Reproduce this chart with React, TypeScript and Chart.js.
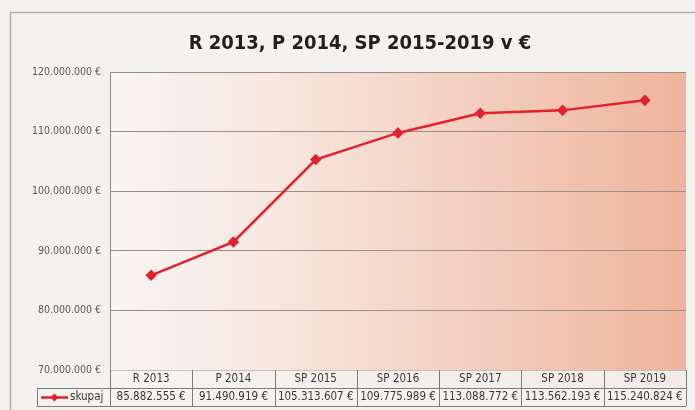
import { useEffect, useRef } from "react";
import { Chart, registerables } from "chart.js";

Chart.register(...registerables);

const chartTitle = "R 2013, P 2014, SP 2015-2019 v €";
const categories = ["R 2013", "P 2014", "SP 2015", "SP 2016", "SP 2017", "SP 2018", "SP 2019"];
const seriesName = "skupaj";
const skupaj = [85882555, 91490919, 105313607, 109775989, 113088772, 113562193, 115240824];
const yMin = 70000000;
const yMax = 120000000;
const yStep = 10000000;

const FONT = "'DejaVu Sans Condensed', 'DejaVu Sans', sans-serif";
const RED = "#e2212d";

function fmt(v: number): string {
  return Math.round(v).toString().replace(/\B(?=(\d{3})+(?!\d))/g, ".") + " €";
}

const decorPlugin = {
  id: "decor",
  beforeDraw(chart: any) {
    const { ctx, chartArea } = chart;
    const W = chart.width;
    const H = chart.height;
    ctx.save();
    ctx.fillStyle = "#f3f2ef";
    ctx.fillRect(0, 0, W, H);
    // outer frame
    ctx.strokeStyle = "#b0b0ae";
    ctx.lineWidth = 1.5;
    ctx.beginPath();
    ctx.moveTo(10.5, H);
    ctx.lineTo(10.5, 12.5);
    ctx.lineTo(W, 12.5);
    ctx.stroke();
    // plot area gradient
    const g = ctx.createLinearGradient(chartArea.left, 0, chartArea.right, 0);
    g.addColorStop(0, "#f8f5f3");
    g.addColorStop(0.3, "#f7e6de");
    g.addColorStop(0.65, "#f3cdbd");
    g.addColorStop(1, "#eeb49c");
    ctx.fillStyle = g;
    ctx.fillRect(chartArea.left, chartArea.top, chartArea.right - chartArea.left, chartArea.bottom - chartArea.top);
    // title
    ctx.fillStyle = "#231f20";
    ctx.font = `bold 20px ${FONT}`;
    ctx.textAlign = "center";
    ctx.textBaseline = "middle";
    ctx.fillText(chartTitle, 360, 44);
    ctx.restore();
  },
  afterDraw(chart: any) {
    const { ctx, chartArea } = chart;
    const xs = chart.scales.x;
    const n = categories.length;
    const colW = (chartArea.right - chartArea.left) / n;
    const top = chartArea.bottom;
    const mid = top + 18;
    const bot = mid + 18;
    const legL = 37;
    ctx.save();
    // header row background
    const hg = ctx.createLinearGradient(chartArea.left, 0, chartArea.right, 0);
    hg.addColorStop(0, "#f6f3f1");
    hg.addColorStop(1, "#f3ebe6");
    ctx.fillStyle = hg;
    ctx.fillRect(chartArea.left + 0.5, top + 0.5, chartArea.right - chartArea.left - 1, 17.5);
    ctx.fillStyle = "#f5f3f0";
    ctx.fillRect(legL, mid, chartArea.right - legL, 18);

    ctx.strokeStyle = "#7f7a78";
    ctx.lineWidth = 1;
    ctx.beginPath();
    ctx.moveTo(legL, mid + 0.5);
    ctx.lineTo(chartArea.right, mid + 0.5);
    ctx.moveTo(legL, bot + 0.5);
    ctx.lineTo(chartArea.right, bot + 0.5);
    ctx.moveTo(legL + 0.5, mid);
    ctx.lineTo(legL + 0.5, bot);
    for (let i = 0; i <= n; i++) {
      const x = Math.round(chartArea.left + i * colW) + 0.5;
      ctx.moveTo(x, top);
      ctx.lineTo(x, bot);
    }
    ctx.stroke();

    ctx.textBaseline = "middle";
    ctx.textAlign = "center";
    ctx.font = `11.5px ${FONT}`;
    ctx.fillStyle = "#3d3837";
    categories.forEach((c, i) => {
      const x = xs.getPixelForValue(i);
      ctx.fillText(c, x, top + 9.5);
      ctx.fillText(fmt(skupaj[i]), x, mid + 9.5);
    });

    // legend
    const ly = mid + 9.5;
    ctx.strokeStyle = RED;
    ctx.lineWidth = 2.5;
    ctx.beginPath();
    ctx.moveTo(41, ly);
    ctx.lineTo(68, ly);
    ctx.stroke();
    ctx.fillStyle = RED;
    ctx.beginPath();
    ctx.moveTo(54.5, ly - 4);
    ctx.lineTo(58.5, ly);
    ctx.lineTo(54.5, ly + 4);
    ctx.lineTo(50.5, ly);
    ctx.closePath();
    ctx.fill();
    ctx.fillStyle = "#3d3837";
    ctx.textAlign = "left";
    ctx.fillText(seriesName, 70, ly);
    ctx.restore();
  },
};

export default function App() {
  const ref = useRef<HTMLCanvasElement | null>(null);
  useEffect(() => {
    document.body.style.margin = "0";
    const canvas = ref.current;
    if (!canvas) return;
    const chart = new Chart(canvas, {
      type: "line",
      data: {
        labels: categories,
        datasets: [
          {
            label: seriesName,
            data: skupaj,
            borderColor: RED,
            backgroundColor: RED,
            borderWidth: 2.5,
            pointStyle: "rectRot",
            pointRadius: 4,
            pointBackgroundColor: RED,
            pointBorderColor: RED,
            tension: 0,
          },
        ],
      },
      options: {
        responsive: false,
        animation: false,
        layout: { padding: { top: 72, right: 9, bottom: 40, left: 0 } },
        plugins: {
          legend: { display: false },
          tooltip: { enabled: false },
          title: { display: false },
        },
        scales: {
          x: { type: "category", display: false, offset: true },
          y: {
            min: yMin,
            max: yMax,
            ticks: {
              stepSize: yStep,
              callback: (v: any) => fmt(Number(v)),
              color: "#5e5856",
              font: { family: FONT, size: 10.5 },
              padding: 9,
            },
            grid: { color: "#9c8d89", lineWidth: 1, drawTicks: false },
            border: { color: "#8e8987", width: 1 },
            afterFit: (s: any) => {
              s.width = 110;
            },
          },
        },
      },
      plugins: [decorPlugin],
    });
    return () => chart.destroy();
  }, []);
  return (
    <div style={{ width: 695, height: 410 }}>
      <canvas ref={ref} width={695} height={410} />
    </div>
  );
}
